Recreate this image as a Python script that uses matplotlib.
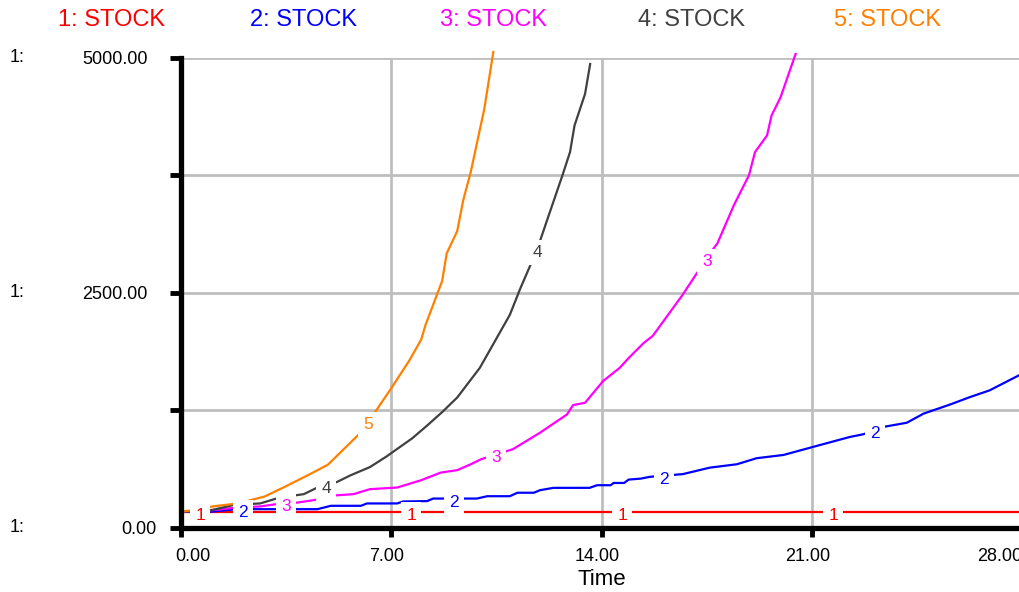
import numpy as np
import matplotlib
matplotlib.use("Agg")
import matplotlib.pyplot as plt
import matplotlib.transforms as mtransforms

plt.rcParams['font.family'] = ['Liberation Sans', 'DejaVu Sans']

# Valores (tempo, STOCK)
t1 = [0, 28]
v1 = [170, 170]

t2 = [0, 1.0, 1.45, 1.9, 4.55, 5.0, 6.0, 6.2, 7.2, 7.4, 8.2, 8.4, 9.85, 10.2,
      10.95, 11.2, 11.75, 11.95, 12.4, 13.6, 13.85, 14.3, 14.4, 14.75, 14.9,
      15.3, 15.6, 16.7, 17.6, 18.5, 19.15, 20.05, 21.15, 22.25, 22.7, 23.35,
      24.15, 24.7, 25.6, 26.25, 26.9, 27.9, 28.0]
v2 = [170, 170, 185, 197, 197, 233, 233, 258, 258, 279, 283, 310, 310, 335,
      335, 372, 372, 399, 424, 424, 452, 452, 476, 476, 512, 522, 541, 570,
      639, 675, 739, 774, 870, 965, 994, 1071, 1117, 1213, 1312, 1390, 1461,
      1625, 1640]

t3 = [0, 1.0, 1.9, 2.65, 3.2, 3.9, 4.45, 5.0, 5.75, 6.3, 7.2, 8.0, 8.65, 9.2,
      9.65, 10.0, 11.05, 11.95, 12.85, 13.05, 13.45, 14.05, 14.6, 14.9, 15.4,
      15.7, 16.7, 17.6, 17.85, 18.4, 18.9, 19.1, 19.5, 19.65, 19.95, 20.45]
v3 = [170, 185, 215, 226, 251, 268, 294, 340, 357, 410, 427, 505, 586, 612,
      675, 729, 835, 1010, 1205, 1304, 1329, 1560, 1700, 1805, 1965, 2040,
      2480, 2918, 3025, 3432, 3750, 3996, 4173, 4385, 4579, 5040]

t4 = [0, 1.0, 1.8, 2.65, 3.3, 4.1, 4.55, 5.2, 5.65, 6.3, 6.85, 7.7, 8.2, 8.7,
      9.2, 9.95, 10.95, 11.3, 11.85, 12.15, 12.7, 12.95, 13.1, 13.45, 13.62]
v4 = [170, 185, 244, 258, 321, 357, 427, 486, 557, 645, 758, 950, 1087, 1230,
      1385, 1700, 2265, 2547, 2954, 3236, 3750, 3996, 4279, 4615, 4933]

t5 = [0, 0.5, 1.1, 1.9, 2.8, 3.5, 4.3, 4.9, 6.0, 6.5, 7.0, 7.6, 8.0, 8.15,
      8.7, 8.85, 9.2, 9.4, 9.65, 10.1, 10.4]
v5 = [170, 190, 228, 258, 332, 440, 569, 670, 1015, 1245, 1480, 1775, 2000,
      2160, 2626, 2918, 3156, 3484, 3784, 4455, 5060]

nomes = ['1: STOCK', '2: STOCK', '3: STOCK', '4: STOCK', '5: STOCK']
numeros = ['1', '2', '3', '4', '5']
cores = ['#ff0000', '#0000ff', '#ff00ff', '#404040', '#ff8000']
rotulos_x = [[0.66, 7.67, 14.68, 21.7],
             [2.09, 9.1, 16.08, 23.09],
             [3.52, 10.5, 17.5],
             [4.85, 11.86],
             [6.25]]

xticks = [0, 7, 14, 21, 28]
xticklabels = ['0.00', '7.00', '14.00', '21.00', '28.00']
yticks = [0, 1250, 2500, 3750, 5000]
yticklabels = ['0.00', '', '2500.00', '', '5000.00']

series = [(t1, v1), (t2, v2), (t3, v3), (t4, v4), (t5, v5)]

fig = plt.figure(figsize=(10.19, 5.92), dpi=100)
ax = fig.add_axes([180.5 / 1019, 64.3 / 592, 842.2 / 1019, 470 / 592])

for (t, v), cor, num, xs in zip(series, cores, numeros, rotulos_x):
    ax.plot(t, v, color=cor, lw=1.6, clip_on=False, zorder=3)
    for xl in xs:
        yl = np.interp(xl, t, v)
        ax.annotate(num, (xl, yl), xytext=(0, -2.5), textcoords='offset points',
                    ha='center', va='center', fontsize=12.5, color=cor,
                    bbox=dict(boxstyle='square,pad=0.3', fc='white', ec='none'),
                    zorder=4)

ax.set_xlim(0, 28)
ax.set_ylim(0, 5000)
ax.set_xticks(xticks)
ax.set_xticklabels(xticklabels, fontsize=13)
ax.set_yticks(yticks)
ax.set_yticklabels(yticklabels, fontsize=13)
ax.tick_params(axis='y', direction='out', length=8, width=3.5, pad=15.5)
ax.tick_params(axis='x', direction='out', length=6.5, width=3.5, pad=8)
ax.grid(True, color='#bebebe', lw=2)
ax.set_axisbelow(True)
for lado in ['top', 'right']:
    ax.spines[lado].set_visible(False)
for lado in ['left', 'bottom']:
    ax.spines[lado].set_linewidth(3.8)
    ax.spines[lado].set_zorder(5)
ax.set_xlabel('Time', fontsize=16, labelpad=3)

# ajuste dos rótulos como no Stella (primeiro e último encostados)
def desloca(lbl, dx_px):
    lbl.set_transform(lbl.get_transform() +
                      mtransforms.ScaledTranslation(dx_px / 100, 0, fig.dpi_scale_trans))

xl = ax.get_xticklabels()
xl[0].set_ha('left')
desloca(xl[0], -5)
for lbl in xl[1:4]:
    desloca(lbl, -4)
xl[4].set_ha('right')
desloca(xl[4], 0)
desloca(ax.get_yticklabels()[0], 9)

# Marcadores "1:" ao lado dos valores do eixo
trans = mtransforms.blended_transform_factory(fig.transFigure, ax.transData)
for yv in [0, 2500, 5000]:
    fig.text(10 / 1019, yv, '1:', transform=trans, fontsize=13,
             ha='left', va='center')

# Legenda no topo
centros = [112, 303, 493, 692, 887]
for nome, cor, cx in zip(nomes, cores, centros):
    fig.text(cx / 1019, 1 - 20 / 592, nome, color=cor, fontsize=17,
             ha='center', va='center')

fig.savefig('out.png', dpi=100)
